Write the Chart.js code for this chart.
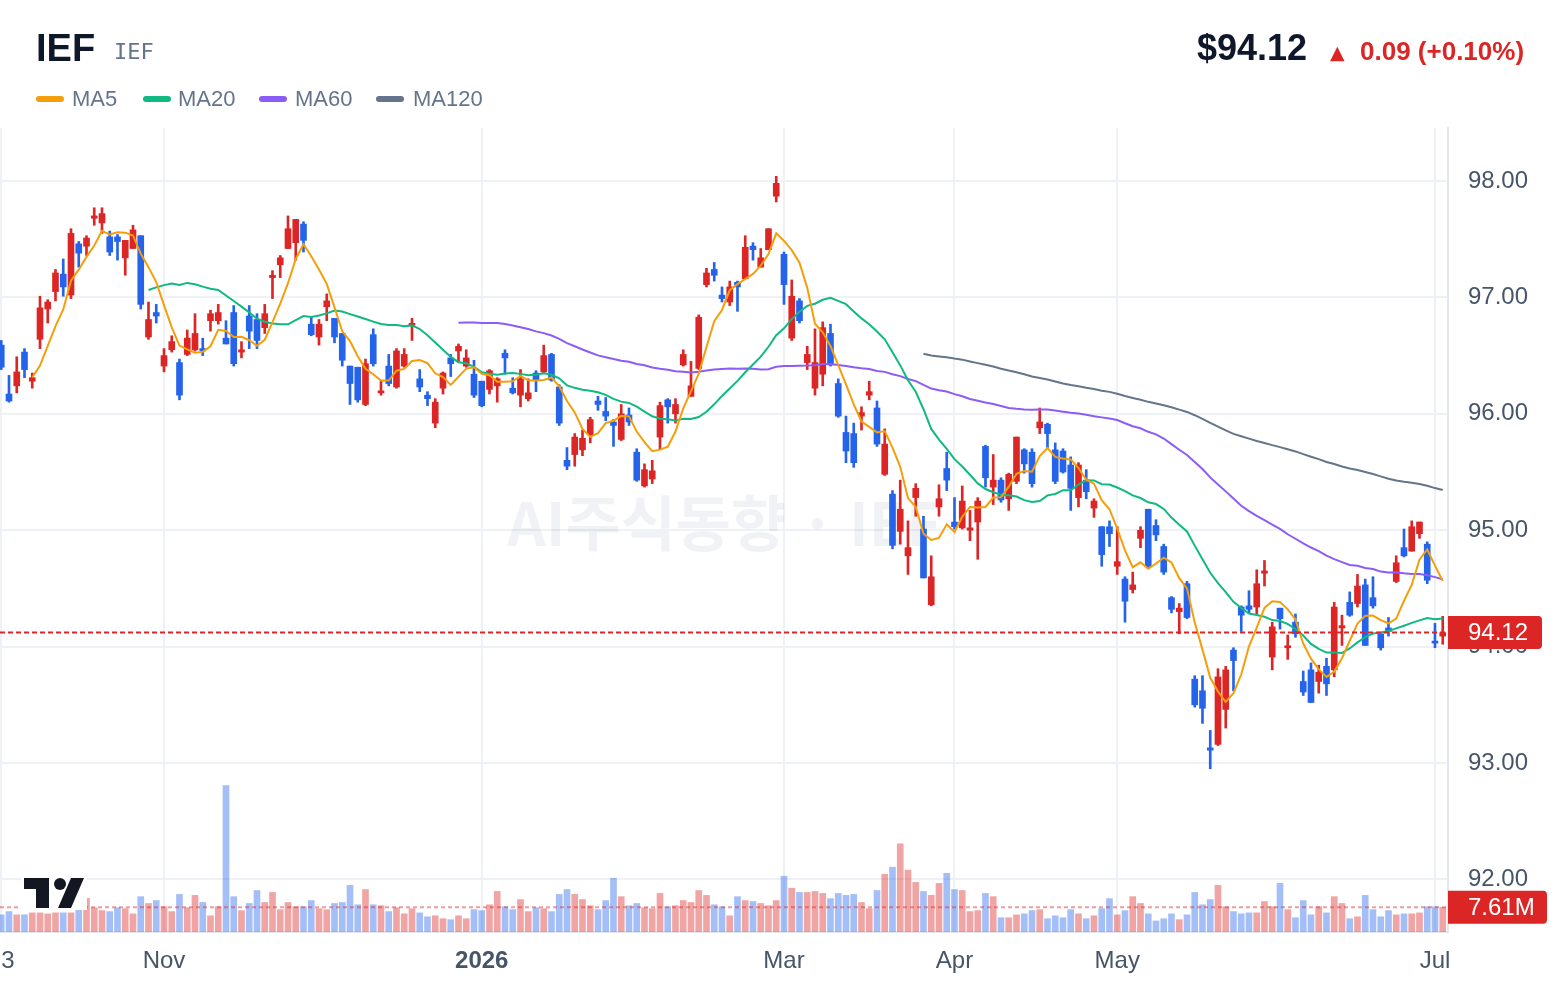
<!DOCTYPE html>
<html>
<head>
<meta charset="utf-8">
<script src="https://cdn.jsdelivr.net/npm/chart.js@4.4.1/dist/chart.umd.min.js"></script>
<style>
  html, body { margin: 0; padding: 0; background: #fff; }
  #wrap { position: relative; width: 1560px; height: 988px; font-family: "Liberation Sans", Arial, sans-serif; }
  #chart { position: absolute; left: 0; top: 0; }
  .t { position: absolute; line-height: 1; white-space: nowrap; }
  .sw { position: absolute; width: 28px; height: 6px; border-radius: 3px; top: 96px; }
</style>
</head>
<body>
<div id="wrap">
  <canvas id="chart" width="1560" height="988"></canvas>
  <div class="t" style="left:36px;top:29px;font-size:38px;font-weight:bold;color:#0f172a;">IEF</div>
  <div class="t" style="left:114px;top:41px;font-size:22px;color:#64748b;font-family:'DejaVu Sans Mono',monospace;">IEF</div>

  <div class="sw" style="left:36px;background:#f59e0b;"></div>
  <div class="t" style="left:72px;top:88px;font-size:22px;color:#64748b;">MA5</div>
  <div class="sw" style="left:143px;background:#10b981;"></div>
  <div class="t" style="left:178px;top:88px;font-size:22px;color:#64748b;">MA20</div>
  <div class="sw" style="left:259px;background:#8b5cf6;"></div>
  <div class="t" style="left:295px;top:88px;font-size:22px;color:#64748b;">MA60</div>
  <div class="sw" style="left:376px;background:#64748b;"></div>
  <div class="t" style="left:413px;top:88px;font-size:22px;color:#64748b;">MA120</div>

  <div class="t" style="left:1197px;top:30px;font-size:36px;font-weight:bold;color:#0f172a;">$94.12</div>
  <div class="t" style="left:1330px;top:43px;font-size:19px;color:#dc2626;font-family:'DejaVu Sans',sans-serif;">▲</div>
  <div class="t" style="left:1360px;top:38px;font-size:26px;font-weight:bold;color:#dc2626;">0.09 (+0.10%)</div>
</div>
<script>
// IEF daily candles, Oct 3 2025 -> Jul 2 2026 (trading day index on x)
const open = [
  96.59, 96.17, 96.24, 96.53, 96.28, 96.64, 96.90, 97.05, 97.20, 97.02,
  97.46, 97.44, 97.68, 97.64, 97.52, 97.52, 97.34, 97.42, 97.53, 96.66,
  96.87, 96.41, 96.55, 96.44, 96.51, 96.55, 96.56, 96.80, 96.80, 96.65,
  96.87, 96.53, 96.84, 96.81, 96.74, 97.17, 97.28, 97.42, 97.47, 97.63,
  96.77, 96.66, 96.92, 96.82, 96.69, 96.41, 96.40, 96.08, 96.68, 96.18,
  96.41, 96.23, 96.41, 96.76, 96.30, 96.16, 95.92, 96.22, 96.48, 96.54,
  96.41, 96.34, 96.28, 96.21, 96.24, 96.52, 96.22, 96.16, 96.13, 96.35,
  96.36, 96.51, 96.23, 95.60, 95.65, 95.69, 95.82, 96.11, 96.02, 95.93,
  95.78, 95.99, 95.67, 95.38, 95.44, 95.80, 96.12, 96.00, 96.42, 96.15,
  96.39, 97.11, 97.24, 97.02, 96.96, 97.13, 97.16, 97.44, 97.26, 97.41,
  97.87, 97.37, 96.65, 96.97, 96.44, 96.22, 96.34, 96.69, 96.26, 95.84,
  95.83, 95.98, 96.16, 96.05, 95.48, 95.31, 94.99, 94.78, 95.28, 95.01,
  94.36, 95.20, 95.53, 95.07, 95.02, 95.00, 95.07, 95.72, 95.37, 95.43,
  95.27, 95.42, 95.69, 95.67, 95.88, 95.91, 95.69, 95.68, 95.56, 95.28,
  95.43, 95.19, 95.03, 95.03, 94.69, 94.58, 94.49, 94.93, 95.18, 95.04,
  94.86, 94.42, 94.30, 94.54, 93.72, 93.62, 93.13, 93.16, 93.46, 93.97,
  94.34, 94.35, 94.34, 94.63, 93.91, 94.33, 93.99, 94.21, 93.70, 93.80,
  93.70, 93.83, 93.80, 94.16, 94.38, 94.37, 94.53, 94.42, 94.11, 94.16,
  94.56, 94.85, 94.82, 94.97, 94.88, 94.04, 94.09
];
const high = [
  96.63, 96.33, 96.49, 96.56, 96.35, 97.01, 96.98, 97.24, 97.33, 97.59,
  97.48, 97.53, 97.77, 97.77, 97.57, 97.54, 97.49, 97.62, 97.53, 96.96,
  96.94, 96.56, 96.67, 96.47, 96.72, 96.86, 96.65, 96.89, 96.94, 96.80,
  96.93, 96.62, 96.93, 96.86, 96.94, 97.23, 97.36, 97.70, 97.67, 97.65,
  96.83, 96.81, 97.03, 96.82, 96.69, 96.41, 96.40, 96.47, 96.73, 96.28,
  96.51, 96.56, 96.56, 96.82, 96.38, 96.19, 96.13, 96.36, 96.51, 96.60,
  96.55, 96.46, 96.28, 96.38, 96.31, 96.55, 96.31, 96.38, 96.30, 96.37,
  96.59, 96.52, 96.25, 95.71, 95.83, 95.86, 95.97, 96.15, 96.14, 95.95,
  96.08, 96.05, 95.70, 95.57, 95.60, 96.10, 96.13, 96.13, 96.55, 96.45,
  96.85, 97.25, 97.30, 97.09, 97.14, 97.14, 97.53, 97.47, 97.42, 97.59,
  98.04, 97.39, 97.15, 96.99, 96.58, 96.73, 96.79, 96.77, 96.30, 95.98,
  95.92, 96.06, 96.28, 96.11, 95.87, 95.34, 95.43, 95.08, 95.40, 95.12,
  94.78, 95.39, 95.67, 95.28, 95.38, 95.17, 95.28, 95.73, 95.65, 95.45,
  95.49, 95.80, 95.70, 95.70, 96.05, 95.92, 95.75, 95.70, 95.63, 95.58,
  95.52, 95.27, 95.03, 95.08, 95.03, 94.60, 94.64, 95.03, 95.18, 95.09,
  94.88, 94.43, 94.37, 94.56, 93.75, 93.75, 93.28, 93.81, 93.83, 93.99,
  94.35, 94.48, 94.66, 94.74, 94.21, 94.33, 94.10, 94.28, 93.79, 93.86,
  93.84, 93.90, 94.38, 94.27, 94.47, 94.62, 94.58, 94.60, 94.11, 94.25,
  94.78, 95.01, 95.08, 95.07, 94.90, 94.20, 94.26
];
const low = [
  96.38, 96.10, 96.18, 96.31, 96.22, 96.56, 96.78, 96.97, 97.01, 96.99,
  97.26, 97.36, 97.62, 97.55, 97.36, 97.32, 97.19, 97.42, 96.90, 96.64,
  96.78, 96.36, 96.53, 96.12, 96.50, 96.54, 96.50, 96.71, 96.77, 96.60,
  96.41, 96.48, 96.56, 96.56, 96.69, 96.99, 97.17, 97.42, 97.32, 97.39,
  96.67, 96.59, 96.80, 96.61, 96.41, 96.08, 96.10, 96.07, 96.41, 96.16,
  96.24, 96.22, 96.40, 96.63, 96.19, 96.07, 95.88, 96.17, 96.32, 96.44,
  96.40, 96.14, 96.06, 96.17, 96.10, 96.34, 96.17, 96.06, 96.11, 96.19,
  96.35, 96.28, 95.90, 95.52, 95.55, 95.64, 95.75, 96.03, 95.94, 95.72,
  95.77, 95.90, 95.42, 95.37, 95.40, 95.70, 95.92, 95.92, 96.41, 96.15,
  96.38, 97.09, 97.14, 96.96, 96.93, 96.88, 97.16, 97.32, 97.26, 97.41,
  97.82, 96.94, 96.63, 96.78, 96.38, 96.16, 96.24, 96.41, 95.97, 95.58,
  95.54, 95.86, 96.12, 95.72, 95.47, 94.84, 94.88, 94.62, 95.12, 94.59,
  94.35, 95.12, 95.34, 95.01, 95.01, 94.91, 94.75, 95.37, 95.22, 95.24,
  95.17, 95.40, 95.49, 95.37, 95.83, 95.70, 95.40, 95.49, 95.17, 95.20,
  95.27, 95.11, 94.69, 94.86, 94.62, 94.21, 94.46, 94.85, 94.67, 94.91,
  94.62, 94.29, 94.11, 94.24, 93.48, 93.34, 92.95, 93.15, 93.30, 93.62,
  94.13, 94.29, 94.28, 94.52, 93.80, 94.15, 93.89, 94.08, 93.58, 93.52,
  93.60, 93.58, 93.74, 94.01, 94.26, 94.34, 94.01, 94.33, 93.97, 94.09,
  94.55, 94.77, 94.82, 94.93, 94.54, 93.99, 94.02
];
const close = [
  96.40, 96.11, 96.36, 96.38, 96.31, 96.91, 96.96, 97.21, 97.09, 97.55,
  97.38, 97.51, 97.70, 97.72, 97.39, 97.48, 97.49, 97.58, 96.94, 96.81,
  96.84, 96.50, 96.62, 96.16, 96.65, 96.69, 96.54, 96.86, 96.87, 96.60,
  96.43, 96.55, 96.71, 96.63, 96.86, 97.19, 97.34, 97.59, 97.67, 97.49,
  96.68, 96.77, 96.97, 96.66, 96.46, 96.26, 96.12, 96.43, 96.43, 96.19,
  96.26, 96.54, 96.51, 96.77, 96.23, 96.13, 96.10, 96.35, 96.43, 96.58,
  96.48, 96.16, 96.07, 96.37, 96.30, 96.48, 96.18, 96.30, 96.18, 96.29,
  96.50, 96.29, 95.92, 95.55, 95.80, 95.79, 95.95, 96.08, 95.98, 95.90,
  96.00, 95.93, 95.43, 95.52, 95.51, 96.07, 96.06, 96.08, 96.51, 96.24,
  96.83, 97.21, 97.19, 96.99, 97.09, 97.09, 97.43, 97.41, 97.34, 97.59,
  97.98, 97.11, 97.01, 96.80, 96.51, 96.44, 96.74, 96.42, 95.98, 95.68,
  95.58, 96.01, 96.19, 95.74, 95.74, 94.87, 95.18, 94.85, 95.36, 94.59,
  94.60, 95.27, 95.43, 95.03, 95.25, 95.02, 95.25, 95.45, 95.43, 95.26,
  95.48, 95.80, 95.57, 95.40, 95.93, 95.83, 95.42, 95.50, 95.36, 95.56,
  95.33, 95.25, 94.79, 94.97, 94.73, 94.39, 94.53, 95.00, 94.69, 94.96,
  94.64, 94.32, 94.33, 94.25, 93.50, 93.47, 93.11, 93.74, 93.80, 93.88,
  94.27, 94.32, 94.54, 94.65, 94.17, 94.24, 94.00, 94.11, 93.61, 93.52,
  93.78, 93.68, 94.34, 94.18, 94.27, 94.52, 94.01, 94.35, 93.99, 94.13,
  94.72, 94.78, 95.03, 95.07, 94.57, 94.03, 94.12
];
// volume in millions of shares
const volume = [
  5.3, 6.3, 5.3, 5.3, 5.9, 5.9, 5.6, 5.9, 5.9, 5.9,
  11.3, 10.4, 7.5, 6.6, 6.3, 7.5, 7.2, 5.6, 10.9, 8.8,
  9.7, 7.8, 6.3, 11.6, 7.5, 11.3, 9.1, 5.0, 7.8, 45.2,
  10.9, 6.6, 8.8, 12.8, 9.1, 12.2, 6.9, 9.1, 7.8, 7.8,
  9.7, 7.2, 6.9, 8.8, 9.1, 14.4, 8.4, 13.1, 8.4, 8.1,
  6.3, 7.5, 5.6, 7.2, 5.9, 4.7, 5.0, 4.1, 3.8, 5.0,
  4.1, 6.9, 6.6, 8.4, 12.5, 7.8, 6.9, 10.0, 6.3, 7.5,
  7.2, 6.3, 11.6, 13.1, 11.6, 10.0, 8.1, 6.9, 9.7, 16.6,
  10.9, 8.1, 8.8, 7.5, 7.2, 11.9, 7.8, 8.1, 9.7, 9.1,
  12.8, 11.3, 8.4, 7.8, 5.0, 10.9, 9.7, 9.4, 8.8, 8.1,
  9.7, 17.2, 13.5, 12.2, 12.2, 12.5, 11.9, 10.3, 11.9, 11.3,
  11.6, 9.1, 7.2, 12.8, 17.8, 20.0, 27.2, 19.1, 15.3, 12.5,
  11.3, 15.0, 18.1, 13.1, 12.8, 6.3, 6.6, 11.9, 10.9, 4.4,
  4.4, 5.3, 5.6, 6.6, 6.9, 4.1, 5.0, 4.4, 6.9, 5.6,
  4.1, 5.0, 7.2, 10.3, 5.3, 6.6, 10.9, 8.8, 5.6, 3.4,
  4.1, 5.6, 3.8, 5.3, 12.2, 8.4, 10.0, 14.4, 7.8, 6.3,
  5.6, 5.9, 5.9, 9.4, 7.8, 15.0, 6.9, 4.4, 9.7, 5.3,
  7.8, 5.9, 10.9, 8.8, 4.1, 4.7, 11.3, 6.9, 4.7, 6.6,
  5.3, 5.6, 5.6, 5.9, 7.8, 7.8, 7.61
];

// x axis labels (trading day index -> label)
const tickIndex = [0, 21, 62, 101, 123, 144, 185];
const tickLabels = ['  3', 'Nov', '2026', 'Mar', 'Apr', 'May', 'Jul'];
const priceTicks = [92, 93, 94, 95, 96, 97, 98];
const lastPrice = 94.12;
const lastVolume = 7.61;

const UP = '#dc2626';
const DOWN = '#2563eb';
const UP_VOL = 'rgba(220,38,38,0.42)';
const DOWN_VOL = 'rgba(37,99,235,0.42)';
const FONT = '"Liberation Sans", Arial, sans-serif';

Chart.defaults.font.family = FONT;

// moving average of closes
const movingAvg = (n) => {
    let out = [];
    for (let i = n - 1; i < close.length; i++) {
        let s = 0;
        for (let k = i - n + 1; k <= i; k++) s += close[k];
        out.push({ x: i, y: s / n });
    }
    return out;
}

const idx = close.map((_, i) => i);
const up = idx.map(i => close[i] >= open[i]);

const maLine = (label, n, color, order) => ({
    type: 'line',
    label: label,
    data: movingAvg(n),
    borderColor: color,
    borderWidth: 2,
    pointRadius: 0,
    tension: 0,
    yAxisID: 'y',
    order: order
});

// watermark, dashed last-value lines, logo and axis value boxes
const overlay = {
    id: 'overlay',
    beforeDatasetsDraw(chart) {
        const { ctx, chartArea: a } = chart;
        ctx.save();
        ctx.font = 'bold 60px "Noto Sans CJK KR", sans-serif';
        ctx.fillStyle = 'rgba(100,116,139,0.09)';
        ctx.textAlign = 'center';
        ctx.textBaseline = 'middle';
        ctx.fillText('AI주식동향 · IEF', (a.left + a.right) / 2, 523);
        ctx.restore();
    },
    afterDatasetsDraw(chart) {
        const { ctx, chartArea: a, scales } = chart;
        const yp = scales.y.getPixelForValue(lastPrice);
        const yv = scales.yv.getPixelForValue(lastVolume);
        ctx.save();
        ctx.lineWidth = 2;
        ctx.setLineDash([5, 3]);
        ctx.strokeStyle = UP;
        ctx.beginPath(); ctx.moveTo(a.left, yp); ctx.lineTo(a.right, yp); ctx.stroke();
        ctx.strokeStyle = 'rgba(220,38,38,0.45)';
        ctx.setLineDash([4, 3]);
        ctx.beginPath(); ctx.moveTo(a.left, yv); ctx.lineTo(a.right, yv); ctx.stroke();
        ctx.restore();
    },
    afterDraw(chart) {
        const { ctx, chartArea: a, scales } = chart;
        ctx.save();
        // attribution logo
        ctx.fillStyle = '#fff';
        ctx.fillRect(21, 876, 66, 34);
        ctx.fillStyle = '#131722';
        ctx.fillRect(24, 878, 25, 11);
        ctx.fillRect(36, 878, 13, 30);
        ctx.beginPath(); ctx.arc(60, 884, 6, 0, Math.PI * 2); ctx.fill();
        ctx.beginPath();
        ctx.moveTo(71, 878); ctx.lineTo(84, 878); ctx.lineTo(71, 908); ctx.lineTo(58, 908);
        ctx.closePath(); ctx.fill();

        // value boxes on the right axis
        const box = (y, w, text) => {
            ctx.fillStyle = UP;
            ctx.beginPath();
            ctx.roundRect(a.right, y - 16.5, w, 33, [0, 4, 4, 0]);
            ctx.fill();
            ctx.fillStyle = '#fff';
            ctx.font = '24px ' + FONT;
            ctx.textAlign = 'left';
            ctx.textBaseline = 'middle';
            ctx.fillText(text, a.right + 20, y + 1);
        };
        box(scales.y.getPixelForValue(lastPrice), 94, lastPrice.toFixed(2));
        box(scales.yv.getPixelForValue(lastVolume), 99, lastVolume.toFixed(2) + 'M');
        ctx.restore();
    }
};

new Chart(document.getElementById('chart').getContext('2d'), {
    type: 'bar',
    data: {
        datasets: [
            maLine('MA5', 5, '#f59e0b', 1),
            maLine('MA20', 20, '#10b981', 2),
            maLine('MA60', 60, '#8b5cf6', 3),
            maLine('MA120', 120, '#64748b', 4),
            {
                label: 'body',
                data: idx.map(i => ({ x: i, y: [open[i], close[i]] })),
                backgroundColor: idx.map(i => up[i] ? UP : DOWN),
                barThickness: 6,
                minBarLength: 2,
                grouped: false,
                yAxisID: 'y',
                order: 5
            },
            {
                label: 'wick',
                data: idx.map(i => ({ x: i, y: [low[i], high[i]] })),
                backgroundColor: idx.map(i => up[i] ? UP : DOWN),
                barThickness: 2,
                grouped: false,
                yAxisID: 'y',
                order: 6
            },
            {
                label: 'volume',
                data: idx.map(i => ({ x: i, y: volume[i] })),
                backgroundColor: idx.map(i => up[i] ? UP_VOL : DOWN_VOL),
                barThickness: 6,
                grouped: false,
                yAxisID: 'yv',
                order: 7
            }
        ]
    },
    options: {
        responsive: false,
        animation: false,
        layout: { padding: { top: 128, left: 0, right: 0, bottom: 0 } },
        plugins: { legend: { display: false }, tooltip: { enabled: false } },
        scales: {
            x: {
                type: 'linear',
                min: -0.161,
                max: 186.68,
                offset: false,
                afterBuildTicks: (s) => { s.ticks = tickIndex.map(v => ({ value: v })); },
                afterFit: (s) => { s.height = 56; s.paddingLeft = 0; s.paddingRight = 0; },
                ticks: {
                    autoSkip: false,
                    maxRotation: 0,
                    padding: 15,
                    color: '#475569',
                    font: (c) => ({ size: 24, weight: (c.tick && c.tick.value === 62) ? 'bold' : 'normal' }),
                    callback: (v) => tickLabels[tickIndex.indexOf(v)]
                },
                grid: { color: '#eef1f5', lineWidth: 2, drawTicks: false, offset: false },
                border: { display: true, color: '#e4e8ee', width: 2 }
            },
            y: {
                position: 'right',
                min: 91.548,
                max: 98.4553,
                afterBuildTicks: (s) => { s.ticks = priceTicks.map(v => ({ value: v })); },
                afterFit: (s) => { s.width = 112; s.paddingTop = 0; s.paddingBottom = 0; },
                ticks: {
                    padding: 20,
                    color: '#475569',
                    font: { size: 24 },
                    callback: (v) => v.toFixed(2)
                },
                grid: { color: '#eef1f5', lineWidth: 2, drawTicks: false },
                border: { display: true, color: '#e4e8ee', width: 2 }
            },
            yv: { display: false, min: 0, max: 248 }
        }
    },
    plugins: [overlay]
});
</script>
</body>
</html>
